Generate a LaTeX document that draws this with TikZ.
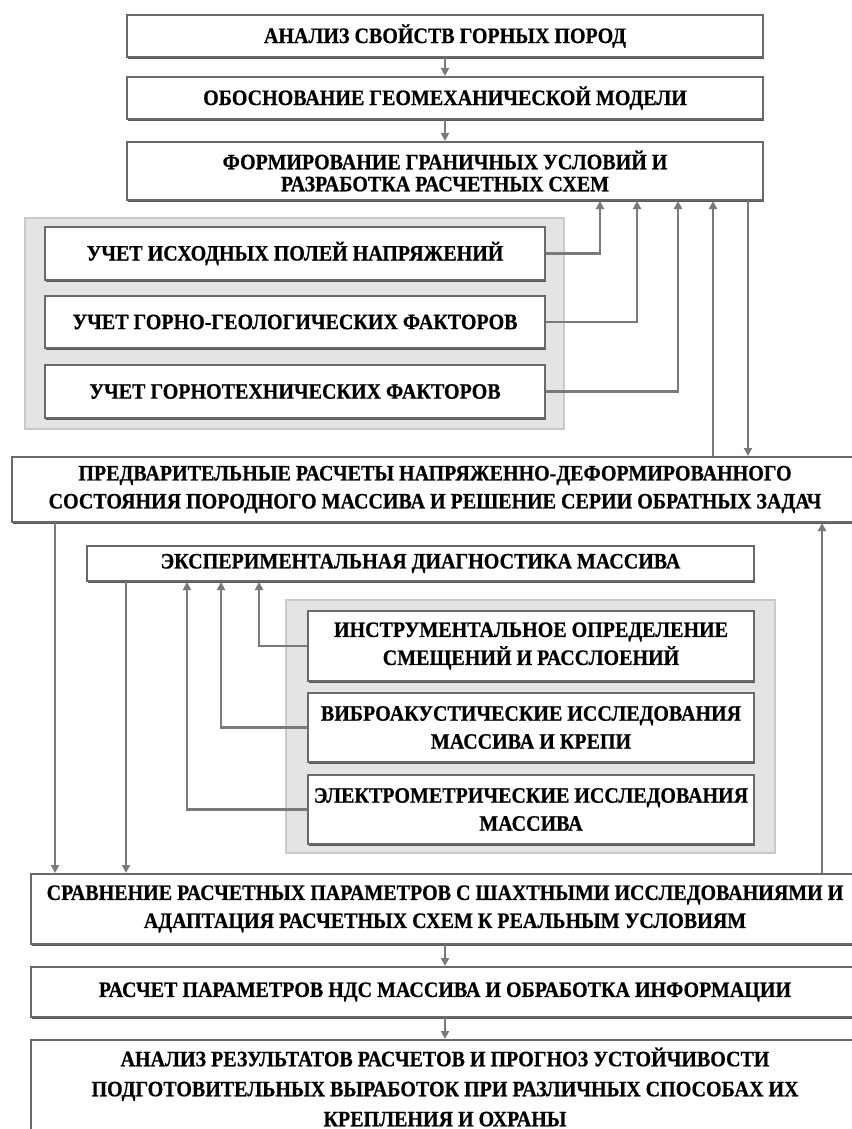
\documentclass[tikz,border=0pt]{standalone}
\usepackage{fontspec}
\setmainfont{Liberation Serif}
\newfontfamily\boxfont{Liberation Serif Bold}[FakeStretch=0.91, FakeBold=0.6]
\usetikzlibrary{arrows.meta,shadows}
\definecolor{boxrim}{HTML}{6A6A6A}
\definecolor{linegray}{HTML}{7A7A7A}
\definecolor{panel}{HTML}{E4E4E4}
\definecolor{panelrim}{HTML}{CACACA}

\begin{document}
\begin{tikzpicture}[x=1pt, y=-1pt,
  blok/.style={draw=boxrim, line width=2pt, fill=white, align=center, inner sep=0pt,
    font=\fontsize{22}{28}\boxfont,
    drop shadow={shadow xshift=1.2pt, shadow yshift=-1.8pt, fill=black!65, opacity=1}},
  grup/.style={draw=panelrim, line width=1.4pt, fill=panel},
  link/.style={draw=linegray, line width=2.2pt, -{Triangle[length=8pt,width=8pt]}}]
  %%%%% START %%%%%

  \useasboundingbox[fill=white] (0,0) rectangle (851,1129);

  % grey panels
  \draw[grup] (25,218) rectangle (564,429);
  \draw[grup] (286,600) rectangle (775,853);

  % boxes
  \node[blok, minimum width=636pt, minimum height=42pt] (b1) at (445,36) {АНАЛИЗ СВОЙСТВ ГОРНЫХ ПОРОД};
  \node[blok, minimum width=636pt, minimum height=42pt] (b2) at (445,98) {ОБОСНОВАНИЕ ГЕОМЕХАНИЧЕСКОЙ МОДЕЛИ};
  \node[blok, minimum width=636pt, minimum height=58pt, font=\fontsize{22}{22}\boxfont] (b3) at (445,171)
    {ФОРМИРОВАНИЕ ГРАНИЧНЫХ УСЛОВИЙ И\\РАЗРАБОТКА РАСЧЕТНЫХ СХЕМ};

  \node[blok, minimum width=500pt, minimum height=53pt] (b4) at (295,253.5) {УЧЕТ ИСХОДНЫХ ПОЛЕЙ НАПРЯЖЕНИЙ};
  \node[blok, minimum width=500pt, minimum height=52pt] (b5) at (295,322) {УЧЕТ ГОРНО-ГЕОЛОГИЧЕСКИХ ФАКТОРОВ};
  \node[blok, minimum width=500pt, minimum height=53pt] (b6) at (295,391.5) {УЧЕТ ГОРНОТЕХНИЧЕСКИХ ФАКТОРОВ};

  \node[blok, minimum width=846pt, minimum height=65pt] (b7) at (435,489.5)
    {ПРЕДВАРИТЕЛЬНЫЕ РАСЧЕТЫ НАПРЯЖЕННО-ДЕФОРМИРОВАННОГО\\СОСТОЯНИЯ ПОРОДНОГО МАССИВА И РЕШЕНИЕ СЕРИИ ОБРАТНЫХ ЗАДАЧ};

  \node[blok, minimum width=667pt, minimum height=35pt] (b8) at (420.5,563.5) {ЭКСПЕРИМЕНТАЛЬНАЯ ДИАГНОСТИКА МАССИВА};

  \node[blok, minimum width=446pt, minimum height=70pt] (b9) at (531,646) {ИНСТРУМЕНТАЛЬНОЕ ОПРЕДЕЛЕНИЕ\\СМЕЩЕНИЙ И РАССЛОЕНИЙ};
  \node[blok, minimum width=446pt, minimum height=69pt] (b10) at (531,727.5) {ВИБРОАКУСТИЧЕСКИЕ ИССЛЕДОВАНИЯ\\МАССИВА И КРЕПИ};
  \node[blok, minimum width=446pt, minimum height=69pt] (b11) at (531,809.5) {ЭЛЕКТРОМЕТРИЧЕСКИЕ ИССЛЕДОВАНИЯ\\МАССИВА};

  \node[blok, minimum width=828pt, minimum height=70pt] (b12) at (445,909)
    {СРАВНЕНИЕ РАСЧЕТНЫХ ПАРАМЕТРОВ С ШАХТНЫМИ ИССЛЕДОВАНИЯМИ И\\АДАПТАЦИЯ РАСЧЕТНЫХ СХЕМ К РЕАЛЬНЫМ УСЛОВИЯМ};
  \node[blok, minimum width=828pt, minimum height=50pt] (b13) at (445,992) {РАСЧЕТ ПАРАМЕТРОВ НДС МАССИВА И ОБРАБОТКА ИНФОРМАЦИИ};
  \node[blok, minimum width=828pt, minimum height=94pt, font=\fontsize{22}{30}\boxfont] (b14) at (445,1087)
    {АНАЛИЗ РЕЗУЛЬТАТОВ РАСЧЕТОВ И ПРОГНОЗ УСТОЙЧИВОСТИ\\ПОДГОТОВИТЕЛЬНЫХ ВЫРАБОТОК ПРИ РАЗЛИЧНЫХ СПОСОБАХ ИХ\\КРЕПЛЕНИЯ И ОХРАНЫ};

  % vertical runs of the connectors
  \coordinate (xa) at (600,0);
  \coordinate (xb) at (637,0);
  \coordinate (xc) at (678,0);
  \coordinate (xd) at (713,0);
  \coordinate (xe) at (748,0);
  \coordinate (xf) at (55,0);
  \coordinate (xg) at (126,0);
  \coordinate (xh) at (259,0);
  \coordinate (xi) at (221,0);
  \coordinate (xj) at (187,0);
  \coordinate (xk) at (822,0);

  % connectors
  \draw[link] (b1) -- (b2);
  \draw[link] (b2) -- (b3);
  \draw[link] (b4.east) -| (xa |- b3.south);
  \draw[link] (b5.east) -| (xb |- b3.south);
  \draw[link] (b6.east) -| (xc |- b3.south);
  \draw[link] (xd |- b7.north) -- (xd |- b3.south);
  \draw[link] (xe |- b3.south) -- (xe |- b7.north);
  \draw[link] (xf |- b7.south) -- (xf |- b12.north);
  \draw[link] (xg |- b8.south) -- (xg |- b12.north);
  \draw[link] (b9.west) -| (xh |- b8.south);
  \draw[link] (b10.west) -| (xi |- b8.south);
  \draw[link] (b11.west) -| (xj |- b8.south);
  \draw[link] (xk |- b12.north) -- (xk |- b7.south);
  \draw[link] (b12) -- (b13);
  \draw[link] (b13) -- (b14);

  %%%%% END %%%%%
\end{tikzpicture}
\end{document}
